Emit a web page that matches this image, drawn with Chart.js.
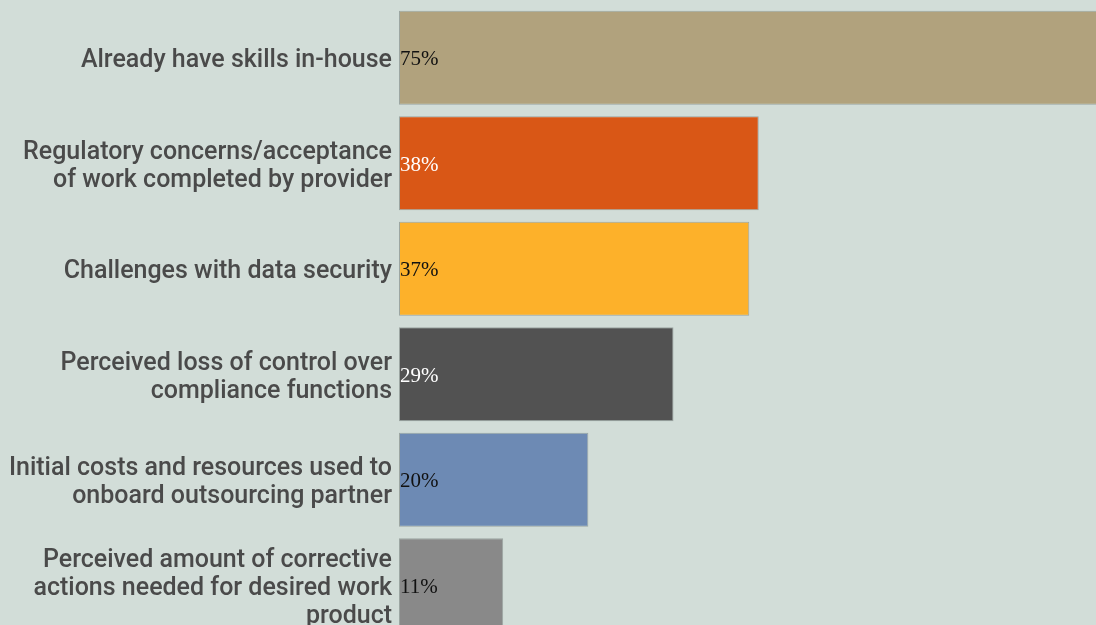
<!DOCTYPE html>
<html>
<head>
<meta charset="utf-8">
<script src="https://cdn.jsdelivr.net/npm/chart.js@4/dist/chart.umd.min.js"></script>
<style>
  html, body { margin: 0; padding: 0; background: #d2ddd8; overflow: hidden; }
  #wrap { width: 1110px; height: 640px; }
</style>
</head>
<body>
<div id="wrap"><canvas id="myChart" width="1110" height="640"></canvas></div>
<script>
// reasons for not outsourcing compliance work
var categories = [
    ['Already have skills in-house'],
    ['Regulatory concerns/acceptance', 'of work completed by provider'],
    ['Challenges with data security'],
    ['Perceived loss of control over', 'compliance functions'],
    ['Initial costs and resources used to', 'onboard outsourcing partner'],
    ['Perceived amount of corrective', 'actions needed for desired work', 'product']
];
var values = [75, 38, 37, 29, 20, 11];
var barColors = ['#b1a27d', '#d95716', '#fdb12a', '#525252', '#6d8ab4', '#898989'];
var valueTextColors = ['#111111', '#ffffff', '#111111', '#ffffff', '#111111', '#111111'];

// label persen di dalam batang
var valueLabels = {
    id: 'valueLabels',
    afterDatasetsDraw: function (chart) {
        var c = chart.ctx;
        var meta = chart.getDatasetMeta(0);
        c.save();
        c.font = '21px "Liberation Serif", serif';
        c.textAlign = 'left';
        c.textBaseline = 'middle';
        meta.data.forEach(function (bar, i) {
            c.fillStyle = valueTextColors[i];
            c.fillText(values[i] + '%', bar.base + 1, bar.y + 2);
        });
        c.restore();
    }
};

var ctx = document.getElementById('myChart');
var barchart = new Chart(ctx, {
    type: 'bar',
    data: {
        labels: categories,
        datasets: [{
            data: values,
            backgroundColor: barColors,
            borderColor: 'rgba(150, 160, 156, 0.9)',
            borderWidth: 1,
            borderSkipped: false,
            categoryPercentage: 1,
            barPercentage: 0.892
        }]
    },
    options: {
        indexAxis: 'y',
        responsive: false,
        animation: false,
        layout: { padding: { top: 5, bottom: 2, right: 1, left: 0 } },
        plugins: {
            legend: { display: false },
            tooltip: { enabled: false }
        },
        scales: {
            x: {
                display: false,
                min: 0,
                max: 75
            },
            y: {
                grid: { display: false, drawTicks: false },
                border: { display: false },
                afterFit: function (scale) {
                    scale.width = 399;
                    scale.paddingTop = 0;
                    scale.paddingBottom = 0;
                },
                ticks: {
                    color: '#4a4a4a',
                    padding: 7,
                    labelOffset: 3,
                    font: { family: 'Roboto', size: 25, weight: '500', lineHeight: 1.12 }
                }
            }
        }
    },
    plugins: [valueLabels]
});
</script>
</body>
</html>
